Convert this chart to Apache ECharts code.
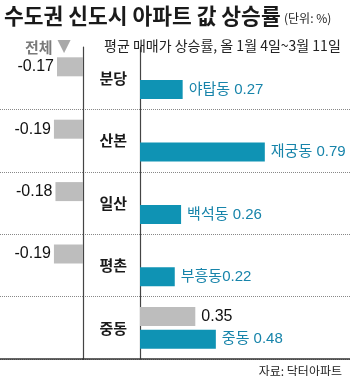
<!DOCTYPE html>
<html><head><meta charset="utf-8">
<script src="https://cdn.jsdelivr.net/npm/echarts@6/dist/echarts.min.js"></script>
<style>html,body{margin:0;padding:0;background:#fff}#c{width:350px;height:376px}</style>
</head><body><div id="c"></div>
<script>
const regions = ['분당', '산본', '일산', '평촌', '중동'];
const totalChange = [-0.17, -0.19, -0.18, -0.19, 0.35];
const topDistrict = ['야탑동', '재궁동', '백석동', '부흥동', '중동'];
const topSep = [' ', ' ', ' ', '', ' '];
const topChange = [0.27, 0.79, 0.26, 0.22, 0.48];

const KFONT = "'Liberation Sans', 'Noto Sans CJK KR', sans-serif";
const BLUE = '#0f93b4';
const GRAY = '#bdbdbd';

const chart = echarts.init(document.getElementById('c'), null, {renderer: 'canvas'});
const splitInt = function (i) { return i > 0; };
chart.setOption({
  animation: false,
  title: [
    {text: '수도권 신도시 아파트 값 상승률', left: -1, top: 0,
     textStyle: {fontFamily: "'Noto Sans CJK KR'", fontWeight: 'bold', fontSize: 21.5, color: '#1a1a1a'}},
    {text: '(단위: %)', left: 279, top: 7,
     textStyle: {fontFamily: "'Noto Sans CJK KR'", fontWeight: 'normal', fontSize: 12, color: '#222'}},
    {text: '{a|전체} {b|▼}', left: 20, top: 33,
     textStyle: {rich: {a: {fontFamily: "'Noto Sans CJK KR'", fontSize: 15, color: '#7a7a7a'},
                        b: {fontFamily: "'DejaVu Sans'", fontSize: 17, color: '#a8a8a8'}}}},
    {text: '평균 매매가 상승률, 올 1월 4일~3월 11일', left: 99, top: 34,
     textStyle: {fontFamily: "'Noto Sans CJK KR'", fontWeight: 'normal', fontSize: 14, color: '#222'}},
    {text: '자료: 닥터아파트', right: 3, top: 360,
     textStyle: {fontFamily: "'Noto Sans CJK KR'", fontWeight: 'normal', fontSize: 12, color: '#222'}}
  ],
  grid: [
    {left: 0, width: 83, top: 47, bottom: 17},
    {left: 83, right: 0, top: 47, bottom: 17}
  ],
  xAxis: [
    {gridIndex: 0, type: 'value', min: -83 / 153, max: 0,
     axisLabel: {show: false}, axisTick: {show: false}, splitLine: {show: false},
     axisLine: {show: true, lineStyle: {color: '#333', width: 1.5}}},
    {gridIndex: 1, type: 'value', min: -57 / 158, max: 210 / 158,
     axisLabel: {show: false}, axisTick: {show: false}, splitLine: {show: false},
     axisLine: {show: true, lineStyle: {color: '#333', width: 1.5}}}
  ],
  yAxis: [
    {gridIndex: 0, type: 'category', data: regions, inverse: true, position: 'right',
     axisLabel: {show: false}, axisTick: {show: false},
     axisLine: {show: true, lineStyle: {color: '#444', width: 1.2}},
     splitLine: {show: true, interval: splitInt, lineStyle: {type: [1, 1], color: '#888', width: 1}}},
    {gridIndex: 1, type: 'category', data: regions, inverse: true, position: 'left', offset: -57,
     axisTick: {show: false},
     axisLine: {show: true, lineStyle: {color: '#444', width: 1.2}},
     axisLabel: {margin: 13, fontFamily: "'Noto Sans CJK KR'", fontWeight: 'bold', fontSize: 15, color: '#1a1a1a'},
     splitLine: {show: true, interval: splitInt, lineStyle: {type: [1, 1], color: '#888', width: 1}}}
  ],
  series: [
    {type: 'bar', xAxisIndex: 0, yAxisIndex: 0, barWidth: 19,
     data: totalChange.map(v => v < 0 ? v : null),
     itemStyle: {color: GRAY},
     label: {show: true, position: 'left', distance: 3, fontFamily: KFONT, fontSize: 16, color: '#111',
             formatter: p => String(p.value)}},
    {type: 'bar', xAxisIndex: 0, yAxisIndex: 0, barWidth: 19, barGap: '20%',
     data: regions.map(() => null)},
    {type: 'bar', xAxisIndex: 1, yAxisIndex: 1, barWidth: 19,
     data: totalChange.map(v => v >= 0 ? v : null),
     itemStyle: {color: GRAY},
     label: {show: true, position: 'right', distance: 6, fontFamily: KFONT, fontSize: 16, color: '#111',
             formatter: p => String(p.value)}},
    {type: 'bar', xAxisIndex: 1, yAxisIndex: 1, barWidth: 19, barGap: '20%',
     data: topChange,
     itemStyle: {color: BLUE},
     label: {show: true, position: 'right', distance: 6, fontFamily: KFONT, fontSize: 15, color: '#1784aa',
             formatter: p => topDistrict[p.dataIndex] + topSep[p.dataIndex] + p.value}}
  ]
});
</script></body></html>
